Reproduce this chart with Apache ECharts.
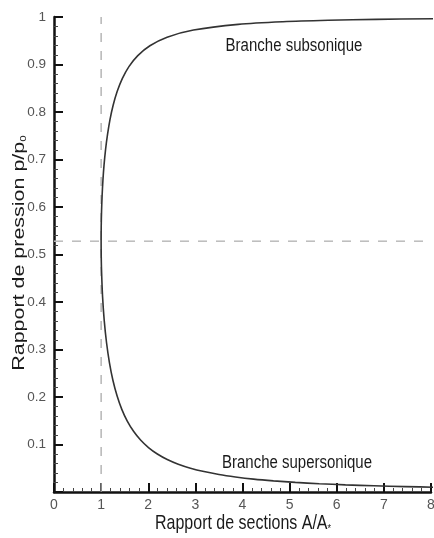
<!DOCTYPE html>
<html>
<head>
<meta charset="utf-8">
<script src="https://cdn.jsdelivr.net/npm/echarts@6/dist/echarts.min.js"></script>
<style>html,body{margin:0;padding:0;background:#fff}#c{width:434px;height:538px}</style>
</head>
<body>
<div id="c"></div>
<script>
// Area ratio A/A* (x) and pressure ratio p/p0 (y), read along the curve from top (subsonic) to bottom (supersonic)
var areaRatio = [8.05, 6.84, 5.82, 4.86, 3.91, 2.96, 2.40, 2.035, 1.778, 1.590, 1.449, 1.340, 1.255, 1.188, 1.136, 1.094, 1.062, 1.038, 1.021, 1.009, 1.002, 1.000,
                 1.002, 1.008, 1.030, 1.066, 1.115, 1.176, 1.250, 1.338, 1.439, 1.555, 1.688, 1.837, 2.005, 2.193, 2.403, 2.637, 2.896, 3.183, 3.500, 3.850, 4.235, 4.657, 5.121, 5.629, 6.184, 6.790, 7.450, 8.169];
var pressureRatio = [0.9964, 0.9950, 0.9930, 0.9900, 0.9844, 0.9725, 0.9575, 0.9395, 0.9188, 0.8956, 0.8703, 0.8430, 0.8142, 0.7840, 0.7528, 0.7209, 0.6886, 0.6560, 0.6235, 0.5913, 0.5595, 0.5283,
                     0.4979, 0.4684, 0.4124, 0.3609, 0.3142, 0.2724, 0.2353, 0.2026, 0.1740, 0.1492, 0.1278, 0.1094, 0.0935, 0.0800, 0.0684, 0.0585, 0.0501, 0.0430, 0.0368, 0.0317, 0.0272, 0.0235, 0.0202, 0.0175, 0.0151, 0.0131, 0.0114, 0.0099];
var sonicArea = [1];            // vertical dashed line A/A* = 1
var criticalPressure = [0.528]; // horizontal dashed line p/p0 = 0.528
var xTicks = [0, 1, 2, 3, 4, 5, 6, 7, 8];
var yTicks = [0.1, 0.2, 0.3, 0.4, 0.5, 0.6, 0.7, 0.8, 0.9, 1];
var labelSub = 'Branche subsonique';
var labelSup = 'Branche supersonique';
var xTitle = 'Rapport de sections A/A';
var yTitle = 'Rapport de pression p/p';

var curve = areaRatio.map(function (a, i) { return [a, pressureRatio[i]]; });
var vLine = [[sonicArea[0], 0], [sonicArea[0], 1]];
var hLine = [[xTicks[0], criticalPressure[0]], [xTicks[xTicks.length - 1], criticalPressure[0]]];

var chart = echarts.init(document.getElementById('c'), null, {renderer: 'canvas'});
var FONT = 'Liberation Sans';
function axisCfg(extra) {
  return Object.assign({
    axisLine: {show: true, onZero: false, lineStyle: {color: '#111', width: 2.5}},
    axisTick: {show: true, inside: true, length: 9, lineStyle: {color: '#111', width: 2}},
    minorTick: {show: true, splitNumber: 5, length: 4, lineStyle: {color: '#444', width: 1}},
    splitLine: {show: false}
  }, extra);
}
chart.setOption({
  animation: false,
  backgroundColor: '#fff',
  grid: {left: 54, right: 3, top: 17, bottom: 46, containLabel: false, outerBoundsMode: 'none'},
  xAxis: axisCfg({
    type: 'value', min: 0, max: 8, interval: 1,
    axisLabel: {color: '#555', fontFamily: FONT, fontSize: 14, margin: 6,
      formatter: function (v) { return xTicks.indexOf(Math.round(v)) >= 0 ? String(Math.round(v)) : ''; }}
  }),
  yAxis: axisCfg({
    type: 'value', min: 0, max: 1, interval: 0.1,
    axisLabel: {color: '#555', fontFamily: FONT, fontSize: 13.5, margin: 8,
      formatter: function (v) {
        var r = Math.round(v * 10) / 10;
        return yTicks.indexOf(r) >= 0 ? String(r) : '';
      }}
  }),
  series: [
    {type: 'line', data: vLine, symbol: 'none', silent: true,
     lineStyle: {color: '#aaa', width: 1.3, type: [9, 9]}},
    {type: 'line', data: hLine, symbol: 'none', silent: true,
     lineStyle: {color: '#bbb', width: 1.5, type: [9, 9]}},
    {type: 'line', data: curve, symbol: 'none', smooth: 0.3, clip: true,
     lineStyle: {color: '#333', width: 1.6}}
  ],
  graphic: [
    {type: 'text', x: 294, y: 46, scaleY: 1.25,
     style: {text: labelSub, font: '15px "Liberation Sans"', fill: '#1a1a1a', textAlign: 'center', textVerticalAlign: 'middle', verticalAlign: 'middle'}},
    {type: 'text', x: 297, y: 463, scaleY: 1.25,
     style: {text: labelSup, font: '15px "Liberation Sans"', fill: '#1a1a1a', textAlign: 'center', textVerticalAlign: 'middle', verticalAlign: 'middle'}},
    {type: 'text', x: 243, y: 523, scaleY: 1.3,
     style: {text: '{t|' + xTitle + '}{s|*}', textAlign: 'center', textVerticalAlign: 'middle', verticalAlign: 'middle',
       rich: {t: {font: '16px "Liberation Sans"', fill: '#1a1a1a', color: '#1a1a1a'},
              s: {font: '9px "Liberation Sans"', fill: '#1a1a1a', color: '#1a1a1a', padding: [9, 0, 0, 0]}}}},
    {type: 'text', x: 19, y: 253, rotation: Math.PI / 2, scaleX: 1.3,
     style: {text: '{t|' + yTitle + '}{s|0}', textAlign: 'center', textVerticalAlign: 'middle', verticalAlign: 'middle',
       rich: {t: {font: '16.5px "Liberation Sans"', fill: '#1a1a1a', color: '#1a1a1a'},
              s: {font: '9px "Liberation Sans"', fill: '#1a1a1a', color: '#1a1a1a', padding: [9, 0, 0, 0]}}}}
  ]
});
</script>
</body>
</html>
